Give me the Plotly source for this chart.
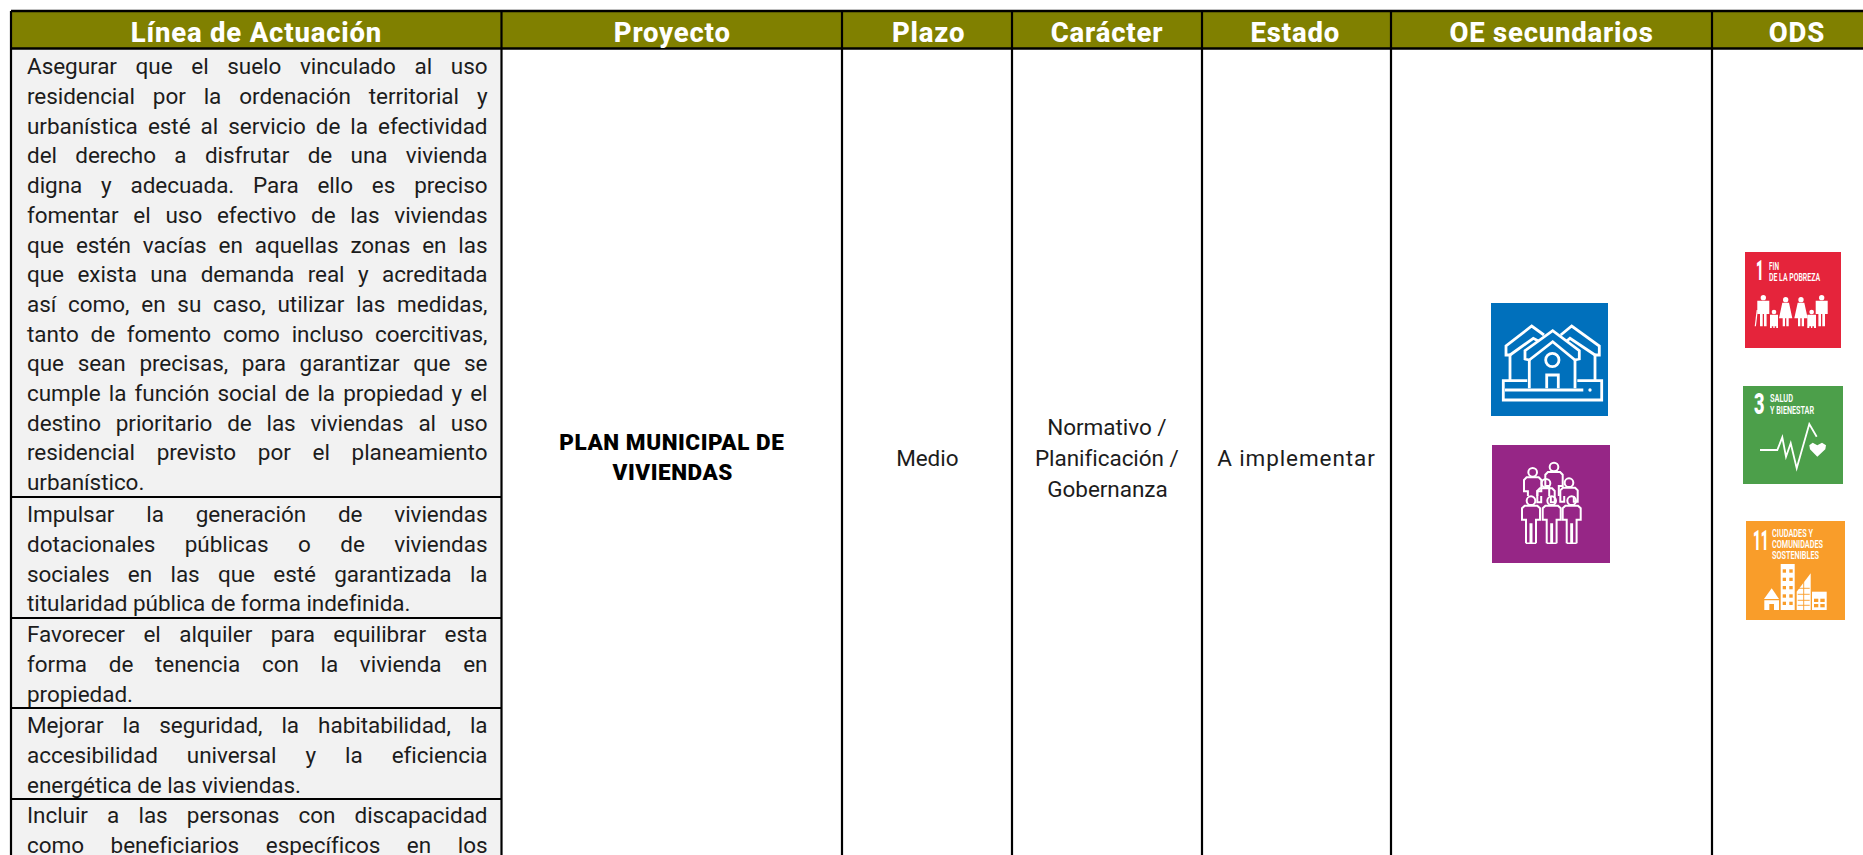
import plotly.graph_objects as go

# ---------- content ----------
headers = ["Línea de Actuación", "Proyecto", "Plazo", "Carácter", "Estado", "OE secundarios", "ODS"]
paragraphs = [
    ["Asegurar que el suelo vinculado al uso",
     "residencial por la ordenación territorial y",
     "urbanística esté al servicio de la efectividad",
     "del derecho a disfrutar de una vivienda",
     "digna y adecuada. Para ello es preciso",
     "fomentar el uso efectivo de las viviendas",
     "que estén vacías en aquellas zonas en las",
     "que exista una demanda real y acreditada",
     "así como, en su caso, utilizar las medidas,",
     "tanto de fomento como incluso coercitivas,",
     "que sean precisas, para garantizar que se",
     "cumple la función social de la propiedad y el",
     "destino prioritario de las viviendas al uso",
     "residencial previsto por el planeamiento",
     "urbanístico."],
    ["Impulsar la generación de viviendas",
     "dotacionales públicas o de viviendas",
     "sociales en las que esté garantizada la",
     "titularidad pública de forma indefinida."],
    ["Favorecer el alquiler para equilibrar esta",
     "forma de tenencia con la vivienda en",
     "propiedad."],
    ["Mejorar la seguridad, la habitabilidad, la",
     "accesibilidad universal y la eficiencia",
     "energética de las viviendas."],
    ["Incluir a las personas con discapacidad",
     "como beneficiarios específicos en los"],
]
proyecto = ["PLAN MUNICIPAL DE", "VIVIENDAS"]
plazo = ["Medio"]
caracter = ["Normativo /", "Planificación /", "Gobernanza"]
estado = ["A implementar"]
ods_labels = [("1", ["FIN", "DE LA POBREZA"]),
              ("3", ["SALUD", "Y BIENESTAR"]),
              ("11", ["CIUDADES Y", "COMUNIDADES", "SOSTENIBLES"])]

# ---------- layout geometry (table grid, separate from the content) ----------
W, H = 1863, 855
col_edges = [11, 501.5, 842, 1012, 1202, 1391, 1712, 1900]
head_top, head_bot = 11, 48.5
para_first_base = [74, 522, 642, 733, 823]
para_rules = [497, 618, 708, 799]
line_step = 29.7
text_left, text_right = 26, 486.5

OLIVE = "#808000"
GREY = "#F2F2F2"
BODY_FONT = "Roboto"
BODY_SIZE = 22.5
BODY_LS = -0.05
HEAD_SIZE = 27.5
HEAD_LS = 0.8


def center_y(base, fs):
    return base - 0.34 * fs


shapes, annos = [], []


def rect(x0, y0, x1, y1, fill, line=None, lw=0):
    shapes.append(dict(type="rect", xref="x", yref="y", x0=x0, y0=y0, x1=x1, y1=y1,
                       fillcolor=fill, line=dict(color=line or fill, width=lw), layer="above"))


def rule(x0, y0, x1, y1, w=2.2):
    shapes.append(dict(type="line", xref="x", yref="y", x0=x0, y0=y0, x1=x1, y1=y1,
                       line=dict(color="#000000", width=w), layer="above"))


def label(x, base, txt, size, name, align="center", color="#1c1c1c", weight=400, family=BODY_FONT):
    annos.append(dict(x=x, y=center_y(base, size), xref="x", yref="y", text=txt, showarrow=False,
                      xanchor=align, yanchor="middle", align=align, name=name, borderpad=0,
                      font=dict(family=family, size=size, color=color, weight=weight)))


# Table background
rect(col_edges[0], head_top, W + 5, head_bot, OLIVE)
rect(col_edges[0], head_bot, col_edges[1], H + 5, GREY)

# Grid
rule(col_edges[0], head_top, W + 5, head_top, 2.4)
rule(col_edges[0], head_bot, W + 5, head_bot, 2.4)
for x in col_edges[:-1]:
    rule(x, head_top, x, H + 5)
for y in para_rules:
    rule(col_edges[0], y, col_edges[1], y)

# Headers
head_cx = [256, 672, 928, 1107, 1295, 1551, 1797]
for cx, t in zip(head_cx, headers):
    label(cx, 42, t, HEAD_SIZE, "head", color="#FFFFFF", weight=800)

# Left column, justified
for para, base in zip(paragraphs, para_first_base):
    for i, ln in enumerate(para):
        nm = "last" if i == len(para) - 1 and len(para) != 2 else "just"
        label(text_left, base + i * line_step, ln, BODY_SIZE, "body-" + nm, align="left")

# Other columns
for i, t in enumerate(proyecto):
    label(671.7, 450 + i * 30, t, 22.5, "proj", color="#000000", weight=900)
label(927.5, 465.5, plazo[0], BODY_SIZE, "mid")
for i, t in enumerate(caracter):
    label(1107, 434.5 + i * 31, t, BODY_SIZE, "mid")
label(1296.5, 465.5, estado[0], BODY_SIZE, "mid-wide")


# ---------- icon helpers: each outline is given in zoom-crop units ----------
def path(pts, ox, oy, s=3.0, close=False):
    d = "M " + " L ".join(f"{ox + x / s:.1f} {oy + y / s:.1f}" for x, y in pts)
    return d + (" Z" if close else "")


def stroke(pts, ox, oy, w=2.0, close=False, col="#FFFFFF", fill=None):
    shapes.append(dict(type="path", xref="x", yref="y", path=path(pts, ox, oy, close=close),
                       line=dict(color=col, width=w), fillcolor=fill or "rgba(0,0,0,0)", layer="above"))


def solid(pts, ox, oy, col="#FFFFFF"):
    shapes.append(dict(type="path", xref="x", yref="y", path=path(pts, ox, oy, close=True),
                       line=dict(color=col, width=0), fillcolor=col, layer="above"))


def disc(cx, cy, r, ox, oy, col="#FFFFFF", fill=True, w=2.0):
    shapes.append(dict(type="circle", xref="x", yref="y", x0=ox + (cx - r) / 3, x1=ox + (cx + r) / 3,
                       y0=oy + (cy - r) / 3, y1=oy + (cy + r) / 3,
                       line=dict(color=col, width=0 if fill else w),
                       fillcolor=col if fill else "rgba(0,0,0,0)", layer="above"))


# --- OE icons ---
rect(1491, 303, 1608, 416, "#0070BC")
rect(1492, 445, 1610, 563, "#962686")
ox, oy = 1470, 290
for pts in [
    [(120, 195), (108, 195), (108, 168), (185, 108), (222, 135)],
    [(120, 195), (190, 145), (205, 153)],
    [(375, 195), (388, 195), (388, 168), (305, 108), (272, 135)],
    [(375, 195), (300, 145), (290, 153)],
    [(178, 210), (165, 207), (165, 182), (248, 122), (328, 182), (328, 207), (315, 210)],
    [(178, 210), (248, 155), (315, 210)],
    [(120, 195), (120, 272)], [(375, 195), (375, 272)],
    [(178, 210), (178, 295)], [(315, 210), (315, 295)],
    [(230, 295), (230, 255), (265, 255), (265, 295)],
    [(172, 272), (100, 272), (100, 330), (395, 330), (395, 272), (322, 272)],
    [(105, 300), (340, 300)],
]:
    stroke(pts, ox, oy, 2.8)
disc(247, 210, 20, ox, oy, fill=False, w=2.8)
disc(360, 300, 5, ox, oy)

def person_outline(cx, hy, r, hw, bot, cut=None):
    top = hy + r + 2
    disc(cx, hy, r, ox, oy, fill=False, w=2.0)
    end = bot if cut is None else cut
    stroke([(cx - hw * 0.55, end), (cx - hw * 0.55, top + 42), (cx - hw, top + 42), (cx - hw, top + 8),
            (cx - hw * 0.7, top), (cx + hw * 0.7, top), (cx + hw, top + 8), (cx + hw, top + 42),
            (cx + hw * 0.55, top + 42), (cx + hw * 0.55, end)], ox, oy, 2.0)
    if cut is None:
        stroke([(cx - hw * 0.55, bot), (cx - 2, bot), (cx - 2, top + 55), (cx + 2, top + 55),
                (cx + 2, bot), (cx + hw * 0.55, bot)], ox, oy, 1.6)

for c, hy in [(188, 547), (252, 531), (228, 580), (297, 578)]:
    person_outline(c, hy, 13, 26, 650, cut=618)
for c, hy in [(183, 632), (245, 632), (305, 632)]:
    person_outline(c, hy, 13, 27, 760)

# --- SDG tiles ---
rect(1745, 252, 1841, 348, "#E5243B")
rect(1743, 386, 1843, 484, "#4C9F4A")
rect(1746, 521, 1845, 620, "#F99D2A")

TILE = "Roboto"


def tile_text(x, base, txt, size, width, weight=600, align="left"):
    label(x, base, txt, size, f"fit:{width}", align=align, color="#FFFFFF", weight=weight, family=TILE)


tile_text(1754.5, 280, ods_labels[0][0], 28, 7.5, 900)
tile_text(1767.5, 270, ods_labels[0][1][0], 11.5, 10)
tile_text(1767.5, 281, ods_labels[0][1][1], 11.5, 51)
tile_text(1752.5, 414, ods_labels[1][0], 30, 10.5, 900)
tile_text(1769, 402, ods_labels[1][1][0], 11.5, 23)
tile_text(1769, 414, ods_labels[1][1][1], 11.5, 44)
tile_text(1751.5, 550, ods_labels[2][0], 28, 15.5, 900)
tile_text(1770.5, 537, ods_labels[2][1][0], 11.5, 41)
tile_text(1770.5, 548, ods_labels[2][1][1], 11.5, 51)
tile_text(1770.5, 559, ods_labels[2][1][2], 11.5, 47)

# Family pictogram (tile 1)
ox, oy = 1700, 230
def person_solid(cx, hy, r, hw, bot, dress=False):
    disc(cx, hy, r, ox, oy)
    top = hy + r + 1
    if dress:
        solid([(cx - hw * .5, top), (cx + hw * .5, top), (cx + hw, bot - 24), (cx + hw * .45, bot - 24),
               (cx + hw * .45, bot), (cx + 2, bot), (cx + 2, bot - 24), (cx - 2, bot - 24), (cx - 2, bot),
               (cx - hw * .45, bot), (cx - hw * .45, bot - 24), (cx - hw, bot - 24)], ox, oy)
    else:
        solid([(cx - hw, top), (cx + hw, top), (cx + hw, top + 40), (cx + hw * .55, top + 40), (cx + hw * .55, bot),
               (cx + 2, bot), (cx + 2, top + 40), (cx - 2, top + 40), (cx - 2, bot), (cx - hw * .55, bot),
               (cx - hw * .55, top + 40), (cx - hw, top + 40)], ox, oy)

person_solid(190, 203, 8, 18, 289)
person_solid(222, 246, 7, 12, 289)
person_solid(257, 209, 8, 20, 289, dress=True)
person_solid(303, 209, 8, 20, 289, dress=True)
person_solid(335, 246, 7, 13, 289)
person_solid(365, 203, 8, 18, 289)
stroke([(172, 240), (166, 289)], ox, oy, 1.2)

# Pulse and heart (tile 3)
ox, oy = 1700, 400
stroke([(180, 150), (232, 150), (247, 112), (258, 170), (272, 130), (290, 205), (328, 72), (350, 110)], ox, oy, 1.8)
solid([(352, 170), (330, 148), (328, 136), (338, 128), (352, 136), (366, 128), (378, 136), (376, 148)], ox, oy)

# City (tile 11)
solid([(192, 597), (215, 565), (237, 597)], ox, oy)
solid([(193, 601), (237, 601), (237, 630), (222, 630), (222, 612), (208, 612), (208, 630), (193, 630)], ox, oy)
solid([(242, 492), (284, 492), (284, 630), (242, 630)], ox, oy)
solid([(290, 630), (290, 575), (332, 520), (332, 630)], ox, oy)
solid([(336, 575), (380, 575), (380, 630), (336, 630)], ox, oy)
ORANGE = "#F99D2A"
for wy in (508, 533, 558, 583, 605):
    for wx in (248, 268):
        solid([(wx, wy), (wx + 10, wy), (wx + 10, wy + 10), (wx, wy + 10)], ox, oy, ORANGE)
for wy in (565, 583, 601, 616):
    stroke([(293, wy), (329, wy)], ox, oy, 0.9, col=ORANGE)
stroke([(311, 545), (311, 630)], ox, oy, 0.9, col=ORANGE)
for wy in (596, 612):
    for wx in (342, 361):
        solid([(wx, wy), (wx + 13, wy), (wx + 13, wy + 10), (wx, wy + 10)], ox, oy, ORANGE)

# ---------- figure ----------
fig = go.Figure()
fig.add_trace(go.Scatter(x=[0, W], y=[0, H], mode="markers", marker=dict(opacity=0), hoverinfo="skip", showlegend=False))
fig.update_layout(
    width=W, height=H, margin=dict(l=0, r=0, t=0, b=0), autosize=False,
    paper_bgcolor="#FFFFFF", plot_bgcolor="#FFFFFF", showlegend=False,
    xaxis=dict(range=[0, W], visible=False, fixedrange=True),
    yaxis=dict(range=[H, 0], visible=False, fixedrange=True),
    shapes=shapes, annotations=annos,
)

post = """
document.body.style.margin='0';
document.documentElement.style.overflow='hidden';
var gd=document.getElementById('{plot_id}');
var LS={'head':%(head)s,'body-just':%(body)s,'body-last':%(body)s,'mid':%(body)s,'mid-wide':0.9,'proj':0.55};
var TW=%(tw)s;
(gd.layout.annotations||[]).forEach(function(a,i){
  var g=gd.querySelector('.annotation[data-index="'+i+'"] text');
  if(!g)return;
  if(LS[a.name]!==undefined){g.style.letterSpacing=LS[a.name]+'px';}
  if(a.name==='body-just'){
    var n=(a.text.match(/ /g)||[]).length;
    if(n>0){var w=g.getComputedTextLength();g.style.wordSpacing=((TW-w)/n)+'px';}
  }
  if(a.name.indexOf('fit:')===0){
    g.setAttribute('textLength',a.name.slice(4));
    g.setAttribute('lengthAdjust','spacingAndGlyphs');
  }
});
""" % dict(head=HEAD_LS, body=BODY_LS, tw=text_right - text_left)

fig.write_html("out.html", config=dict(displayModeBar=False, staticPlot=True), post_script=post)
